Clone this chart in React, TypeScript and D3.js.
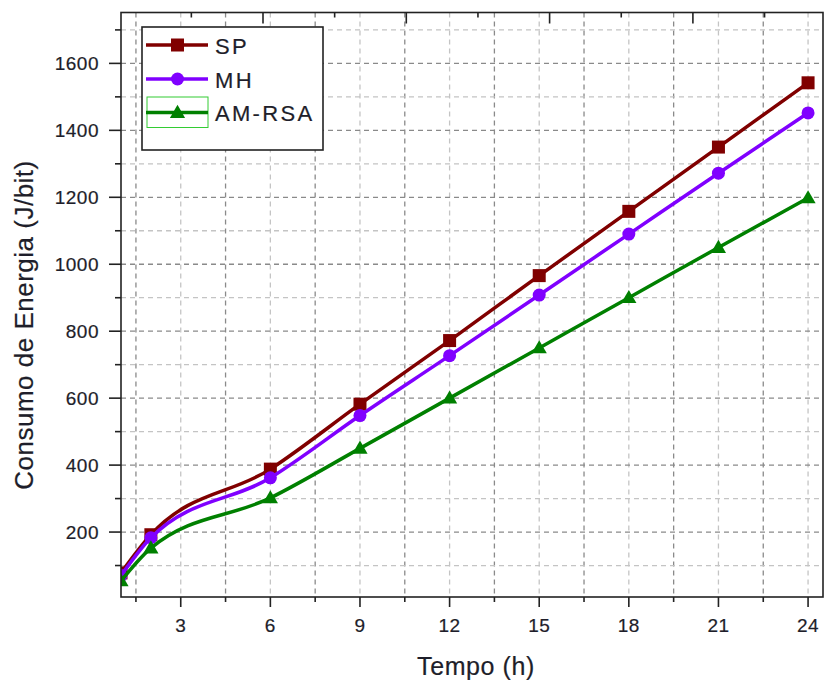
import React from "react";
import * as d3 from "d3";

const hours = [1, 2, 6, 9, 12, 15, 18, 21, 24];
const spValues = [78, 192, 388, 582, 772, 966, 1158, 1350, 1542];
const mhValues = [70, 183, 362, 548, 727, 908, 1090, 1272, 1452];
const amValues = [54, 152, 302, 450, 600, 750, 900, 1050, 1198];

const seriesNames = ["SP", "MH", "AM-RSA"];
const seriesColors = ["#800000", "#8000ff", "#008000"];
const seriesMarkers = ["square", "circle", "triangle"];

const xMajorTicks = [3, 6, 9, 12, 15, 18, 21, 24];
const xMinorTicks = [1.5, 4.5, 7.5, 10.5, 13.5, 16.5, 19.5, 22.5];
const yMajorTicks = [200, 400, 600, 800, 1000, 1200, 1400, 1600];
const yMinorTicks = [100, 300, 500, 700, 900, 1100, 1300, 1500, 1700];
const topMajorTicks = [1, 2, 3, 4];
const topMinorTicks = [0.5, 1.5, 2.5, 3.5, 4.5];

const xLabel = "Tempo (h)";
const yLabel = "Consumo de Energia (J/bit)";

const W = 825;
const H = 682;
const L = 121;
const R = 823;
const T = 12.5;
const B = 597;

export default function App() {
  const x = d3.scaleLinear().domain([1, 24.5]).range([L, R]);
  const y = d3.scaleLinear().domain([6, 1752]).range([B, T]);
  const xTop = d3.scaleLinear().domain([0, 5]).range([119.7, 119.7 + 5 * 143.3]);

  const series = [spValues, mhValues, amValues].map((vals, i) => ({
    name: seriesNames[i],
    color: seriesColors[i],
    marker: seriesMarkers[i],
    points: hours.map((h, j) => [h, vals[j]] as [number, number]),
  }));

  const line = d3
    .line<[number, number]>()
    .x((d) => x(d[0]))
    .y((d) => y(d[1]))
    .curve(d3.curveMonotoneX);

  const marker = (type: string, cx: number, cy: number, color: string, key: any) => {
    if (type === "square") {
      const s = 13;
      return <rect key={key} x={cx - s / 2} y={cy - s / 2} width={s} height={s} fill={color} />;
    }
    if (type === "circle") {
      return <circle key={key} cx={cx} cy={cy} r={6.5} fill={color} />;
    }
    const sym = d3.symbol().type(d3.symbolTriangle).size(100)();
    return <path key={key} d={sym || ""} transform={`translate(${cx},${cy + 1})`} fill={color} />;
  };

  const font = "Arial, 'Liberation Sans', sans-serif";
  const textColor = "#1e1e2a";
  const textStroke = { stroke: textColor, strokeWidth: 0.2 };

  const lgX = 142, lgY = 27, lgW = 181, lgH = 123;
  const legendRows = [45, 79, 112.5];

  return (
    <svg
      width={W}
      height={H}
      style={{ position: "absolute", left: 0, top: 0, background: "#fff" }}
      fontFamily={font}
    >
      <defs>
        <clipPath id="plotClip">
          <rect x={L} y={T} width={R - L} height={B - T} />
        </clipPath>
      </defs>
      <rect x={0} y={0} width={W} height={H} fill="#fff" />

      {xMajorTicks.map((t) => (
        <line key={"gxM" + t} x1={x(t)} x2={x(t)} y1={T} y2={B} stroke="#c4c4c4" strokeWidth={1.3} strokeDasharray="5,4" />
      ))}
      {xMinorTicks.map((t) => (
        <line key={"gxm" + t} x1={x(t)} x2={x(t)} y1={T} y2={B} stroke="#8a8a8a" strokeWidth={1.3} strokeDasharray="5,4" />
      ))}
      {yMajorTicks.map((t) => (
        <line key={"gyM" + t} x1={L} x2={R} y1={y(t)} y2={y(t)} stroke="#8a8a8a" strokeWidth={1.3} strokeDasharray="5,4" />
      ))}
      {yMinorTicks.map((t) => (
        <line key={"gym" + t} x1={L} x2={R} y1={y(t)} y2={y(t)} stroke="#c4c4c4" strokeWidth={1.3} strokeDasharray="5,4" />
      ))}

      <g clipPath="url(#plotClip)">
        {series.map((s) => (
          <g key={s.name}>
            <path d={line(s.points) || ""} fill="none" stroke={s.color} strokeWidth={3.5} />
            {s.points.map((p, j) => marker(s.marker, x(p[0]), y(p[1]), s.color, j))}
          </g>
        ))}
      </g>

      <rect x={L} y={T} width={R - L} height={B - T} fill="none" stroke="#222" strokeWidth={1.6} />

      {xMajorTicks.map((t) => (
        <g key={"xt" + t}>
          <line x1={x(t)} x2={x(t)} y1={B} y2={B + 10} stroke="#222" strokeWidth={1.6} />
          <text x={x(t)} y={632} textAnchor="middle" fontSize={19} fill={textColor} letterSpacing={0.5} {...textStroke}>
            {t}
          </text>
        </g>
      ))}
      {xMinorTicks.map((t) => (
        <line key={"xm" + t} x1={x(t)} x2={x(t)} y1={B} y2={B + 5} stroke="#222" strokeWidth={1.6} />
      ))}

      {yMajorTicks.map((t) => (
        <g key={"yt" + t}>
          <line x1={L - 12} x2={L} y1={y(t)} y2={y(t)} stroke="#222" strokeWidth={1.6} />
          <text x={99} y={y(t) + 7} textAnchor="end" fontSize={19} fill={textColor} letterSpacing={0.5} {...textStroke}>
            {t}
          </text>
        </g>
      ))}
      {yMinorTicks.map((t) => (
        <line key={"ym" + t} x1={L - 6} x2={L} y1={y(t)} y2={y(t)} stroke="#222" strokeWidth={1.6} />
      ))}

      {topMajorTicks.map((t) => (
        <line key={"tt" + t} x1={xTop(t)} x2={xTop(t)} y1={T} y2={T + 11} stroke="#222" strokeWidth={1.6} />
      ))}
      {topMinorTicks.map((t) => (
        <line key={"tm" + t} x1={xTop(t)} x2={xTop(t)} y1={T} y2={T + 5} stroke="#222" strokeWidth={1.6} />
      ))}

      <text x={476} y={675} textAnchor="middle" fontSize={25} fill={textColor} letterSpacing={0.6} {...textStroke}>
        {xLabel}
      </text>
      <text
        transform={`translate(33,325) rotate(-90)`}
        textAnchor="middle"
        fontSize={26}
        fill={textColor}
        letterSpacing={0.5}
        {...textStroke}
      >
        {yLabel}
      </text>

      <rect x={lgX} y={lgY} width={lgW} height={lgH} fill="#fff" stroke="#222" strokeWidth={1.6} />
      {series.map((s, i) => (
        <g key={"lg" + s.name}>
          {i === 2 && (
            <rect x={147} y={97} width={61} height={30.5} fill="none" stroke="#33cc33" strokeWidth={1} />
          )}
          <line x1={146} x2={208} y1={legendRows[i]} y2={legendRows[i]} stroke={s.color} strokeWidth={3.5} />
          {marker(s.marker, 177.5, legendRows[i], s.color, "m")}
          <text x={215} y={legendRows[i] + 8.5} fontSize={22} fill={textColor} letterSpacing={2.3} {...textStroke}>
            {s.name}
          </text>
        </g>
      ))}
    </svg>
  );
}
